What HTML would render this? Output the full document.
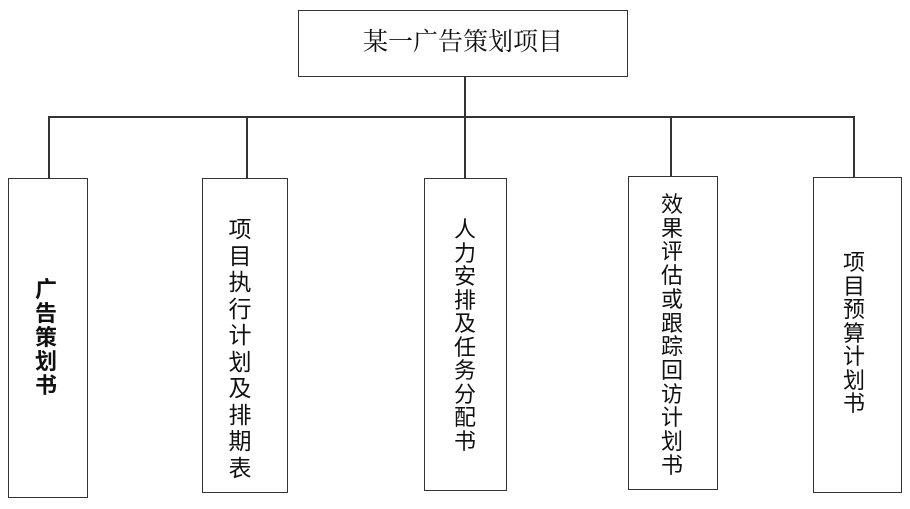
<!DOCTYPE html>
<html><head><meta charset="utf-8"><style>
html,body{margin:0;padding:0;background:#fff;}
body{width:910px;height:509px;position:relative;overflow:hidden;font-family:"Liberation Sans","Noto Sans CJK SC",sans-serif;color:#111;}
.b{position:absolute;border:1.5px solid #333;box-sizing:border-box;}
.l{position:absolute;background:#333;}
.t{position:absolute;font-size:22px;text-align:center;width:30px;word-break:break-all;}
</style></head><body>
<div class="b" style="left:298px;top:10px;width:330px;height:67px;"></div>
<div style="position:absolute;left:298px;top:27px;width:330px;text-align:center;font-family:'Liberation Serif','Noto Serif CJK SC',serif;font-size:25px;line-height:32px;">某一广告策划项目</div>
<div class="l" style="left:464px;top:77px;width:1.5px;height:41px;"></div>
<div class="l" style="left:48px;top:116px;width:806px;height:1.5px;"></div>
<div class="l" style="left:48px;top:116px;width:1.5px;height:62px;"></div>
<div class="l" style="left:246px;top:116px;width:1.5px;height:62px;"></div>
<div class="l" style="left:464px;top:116px;width:1.5px;height:62px;"></div>
<div class="l" style="left:670px;top:116px;width:1.5px;height:60px;"></div>
<div class="l" style="left:853px;top:116px;width:1.5px;height:61px;"></div>

<div class="b" style="left:8px;top:178px;width:80px;height:320px;"></div>
<div class="b" style="left:202px;top:178px;width:86px;height:315px;"></div>
<div class="b" style="left:424px;top:178px;width:83px;height:313px;"></div>
<div class="b" style="left:628px;top:176px;width:90px;height:314px;"></div>
<div class="b" style="left:813px;top:177px;width:89px;height:316px;"></div>

<div class="t" style="left:31px;top:278px;line-height:24px;font-weight:bold;">广告策划书</div>
<div class="t" style="left:225px;top:216px;line-height:26.5px;font-size:23px;">项目执行计划及排期表</div>
<div class="t" style="left:450px;top:218px;line-height:23.5px;">人力安排及任务分配书</div>
<div class="t" style="left:657px;top:193px;line-height:23.7px;">效果评估或跟踪回访计划书</div>
<div class="t" style="left:839px;top:251px;line-height:23.5px;">项目预算计划书</div>
</body></html>
